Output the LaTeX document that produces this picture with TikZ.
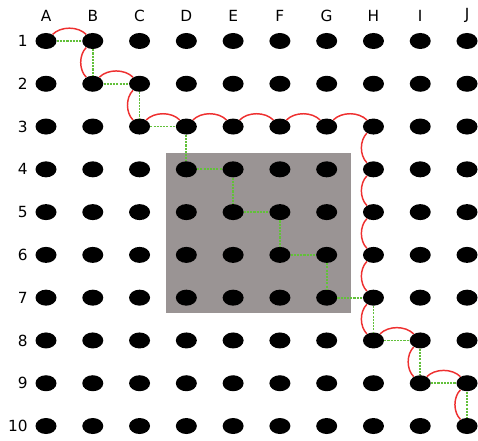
\documentclass[tikz,border=0pt]{standalone}
\usepackage{fontspec}
\setmainfont{DejaVu Sans}
\usetikzlibrary{shapes.geometric}
\definecolor{cpath}{RGB}{238,48,48}
\definecolor{cwalk}{RGB}{98,192,58}
\definecolor{cblock}{RGB}{154,148,148}
\tikzset{
  dot/.style={ellipse,fill=black,draw=none,minimum width=15.75pt,
    minimum height=12pt,inner sep=0pt},
  collabel/.style={font=\fontsize{11.5}{13}\selectfont,inner sep=0pt},
  rowlabel/.style={font=\fontsize{11.5}{13}\selectfont,inner sep=0pt,anchor=east},
  % shortest path in the plane (dotted) and the wavy route (red)
  walk/.style={cwalk,line width=1.3pt,dash pattern=on 1.6pt off 0.8pt},
  route/.style={cpath,line width=1.1pt,looseness=0.9}
}
\begin{document}
\begin{tikzpicture}[x=0.75pt,y=0.75pt]
  \useasboundingbox (0,0) rectangle (478,441);
  \fill[cblock] (166,288) rectangle (351,128);
  % grid of dots with column letters
  \foreach \c [count=\i from 0] in {A,B,C,D,E,F,G,H,I,J}{
    \node[collabel] (col\c) at ({46+46.78*\i},425.5) {\c};
    \foreach \r in {1,...,10}
      \node[dot] (\c\r) at ({46+46.78*\i},{400-42.78*(\r-1)}) {};
  }
  \foreach \r in {1,...,10}
    \node[rowlabel] (row\r) at (28,{400-42.78*(\r-1)}) {\r};
  \foreach \a/\b in {A1/B1,B1/B2,B2/C2,C2/C3,C3/D3,D3/D4,D4/E4,E4/E5,E5/F5,
      F5/F6,F6/G6,G6/G7,G7/H7,H7/H8,H8/I8,I8/I9,I9/J9,J9/J10}
    \draw[walk] (\a) -- (\b);
  \foreach \a/\b in {A1/B1,B2/C2,C3/D3,D3/E3,E3/F3,F3/G3,G3/H3,H8/I8,I9/J9}
    \draw[route] (\a) to[bend left=45] (\b);
  \foreach \a/\b in {B1/B2,C2/C3,H3/H4,H4/H5,H5/H6,H6/H7,H7/H8,I8/I9,J9/J10}
    \draw[route] (\a) to[bend right=45] (\b);
\end{tikzpicture}
\end{document}
